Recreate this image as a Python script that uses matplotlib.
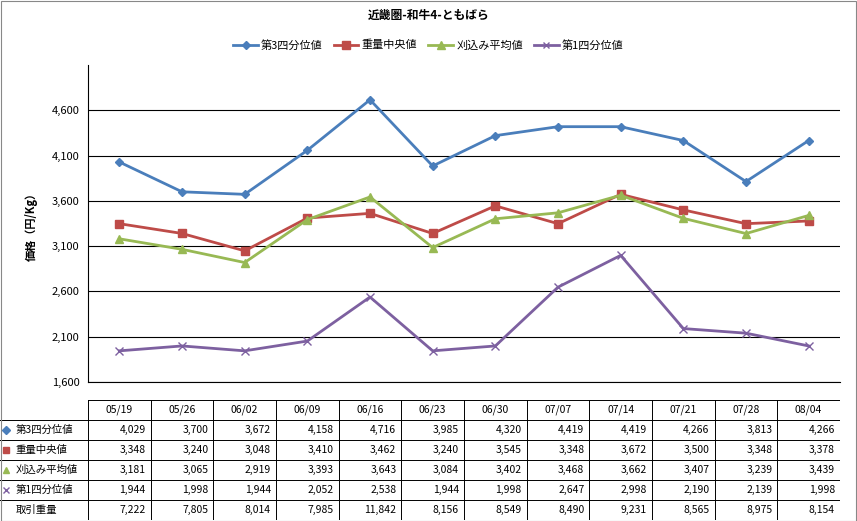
import matplotlib
matplotlib.use("Agg")
import matplotlib.pyplot as plt
from matplotlib.lines import Line2D

plt.rcParams['font.family'] = ['Noto Sans CJK JP', 'DejaVu Sans']

dates = ["05/19", "05/26", "06/02", "06/09", "06/16", "06/23", "06/30", "07/07", "07/14", "07/21", "07/28", "08/04"]
q3 = [4029, 3700, 3672, 4158, 4716, 3985, 4320, 4419, 4419, 4266, 3813, 4266]
median = [3348, 3240, 3048, 3410, 3462, 3240, 3545, 3348, 3672, 3500, 3348, 3378]
mean = [3181, 3065, 2919, 3393, 3643, 3084, 3402, 3468, 3662, 3407, 3239, 3439]
q1 = [1944, 1998, 1944, 2052, 2538, 1944, 1998, 2647, 2998, 2190, 2139, 1998]
volume = [7222, 7805, 8014, 7985, 11842, 8156, 8549, 8490, 9231, 8565, 8975, 8154]

names = ["第3四分位値", "重量中央値", "刈込み平均値", "第1四分位値"]
colors = ["#4A7EBB", "#BE4B48", "#98B954", "#7D60A0"]
markers = ["D", "s", "^", "x"]
series = [q3, median, mean, q1]

W, H = 857, 521
fig = plt.figure(figsize=(W / 100, H / 100), dpi=100)

ax = fig.add_axes([88 / W, 1 - 382 / H, 752 / W, (382 - 65) / H])
xs = [i + 0.5 for i in range(len(dates))]
handles = []
for vals, c, m, n in zip(series, colors, markers, names):
    ms = {"D": 4.5, "s": 6, "^": 6, "x": 5.5}[m]
    h, = ax.plot(xs, vals, color=c, lw=2.0, marker=m, ms=ms, mfc=c, mec=c, mew=1.0, label=n)
    handles.append(h)
ax.set_xlim(0, 12)
ax.set_ylim(1600, 5100)
ax.set_yticks(range(1600, 5000, 500))
ax.set_yticklabels([f"{v:,}" for v in range(1600, 5000, 500)], fontsize=8)
ax.set_xticks([])
ax.grid(axis="y", color="black", lw=0.8)
for s in ["top", "right"]:
    ax.spines[s].set_visible(False)
ax.tick_params(axis="y", length=0, pad=6)
ax.set_ylabel("価格（円/Kg）", fontsize=8, fontweight="bold", labelpad=10)

fig.text(0.5, 1 - 15 / H, "近畿圏-和牛4-ともばら", ha="center", va="center", fontsize=8.5, fontweight="bold")
fig.legend(handles=handles, loc="center", bbox_to_anchor=(0.5, 1 - 45 / H), ncol=4,
           frameon=False, fontsize=8, handlelength=2.2, handletextpad=0.3,
           columnspacing=1.0, markerscale=0.85)

# data table
tb = fig.add_axes([0, 1 - 520 / H, 840 / W, 120 / H])
tb.set_xlim(-88 / (752 / 12), 12)
tb.set_ylim(6, 0)
tb.axis("off")
x0 = -88 / (752 / 12)
for r in range(7):
    tb.plot([x0 if r > 0 else 0, 12], [r, r], color="black", lw=0.7)
for c in range(13):
    tb.plot([c, c], [0, 6], color="black", lw=0.7)
for i, d in enumerate(dates):
    tb.text(i + 0.5, 0.5, d, ha="center", va="center", fontsize=7.5)
rows = series + [volume]
row_names = names + ["取引重量"]
for r, (vals, n) in enumerate(zip(rows, row_names)):
    y = r + 1.5
    if r < 4:
        tb.add_line(Line2D([x0 + 0.1], [y], marker=markers[r], color=colors[r], ms=4.5, mew=1.0, ls=""))
    tb.text(x0 + 0.25, y, n, ha="left", va="center", fontsize=7.5)
    for i, v in enumerate(vals):
        tb.text(i + 0.92, y, f"{v:,}", ha="right", va="center", fontsize=7.5)

fig.add_artist(plt.Rectangle((0.5 / W, 0.5 / H), 1 - 1.5 / W, 1 - 1.5 / H, fill=False, ec="#888888", lw=0.8, transform=fig.transFigure))
fig.savefig("out.png", dpi=100)
